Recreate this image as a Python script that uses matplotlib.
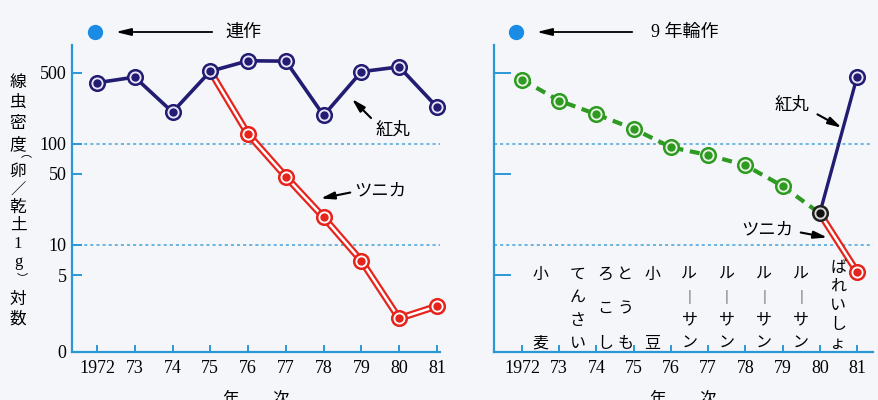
import matplotlib.pyplot as plt
import numpy as np

plt.rcParams['font.family'] = ['Liberation Serif', 'Noto Sans CJK JP', 'DejaVu Sans']

# --- data ---------------------------------------------------------------
years = [1972, 1973, 1974, 1975, 1976, 1977, 1978, 1979, 1980, 1981]
year_labels = ['1972', '73', '74', '75', '76', '77', '78', '79', '80', '81']

# continuous cropping
kouma_mono = [400, 455, 205, 520, 660, 655, 190, 515, 575, 230]
tsunika_years = [1975, 1976, 1977, 1978, 1979, 1980, 1981]
tsunika_mono = [520, 124, 47, 18.6, 6.9, 1.86, 2.46]

# 9-year rotation
rot_years = [1972, 1973, 1974, 1975, 1976, 1977, 1978, 1979, 1980]
rot_values = [430, 266, 195, 140, 92, 77, 61, 38, 20.4]
kouma_rot_1981 = 455
tsunika_rot_1981 = 5.4

crops = ['小麦', 'てんさい', 'とうもろこし', '小豆',
         'ルーサン', 'ルーサン', 'ルーサン', 'ルーサン', 'ばれいしょ']
crop_years = [1972, 1973, 1974, 1975, 1976, 1977, 1978, 1979, 1980]

left_yticks = [0.865, 5, 10, 50, 100, 500]
left_ylabels = ['0', '5', '10', '50', '100', '500']
right_yticks = [5, 50, 500]
ref_levels = [10, 100]

# --- style ----------------------------------------------------------------
BG = '#f4f6fa'
AXIS = '#2b98d6'
DOT = '#45a3d9'
NAVY = '#221c72'
RED = '#e6241c'
GREEN = '#2f9a22'
BLUE_DOT = '#1a8ce6'
W, H = 879, 400


def box(x0, y0, x1, y1):
    return [x0 / W, 1 - y1 / H, (x1 - x0) / W, (y1 - y0) / H]


def fp(x, y):
    return (x / W, 1 - y / H)


fig = plt.figure(figsize=(W / 100, H / 100), dpi=100, facecolor=BG)
ax1 = fig.add_axes(box(72, 45, 440, 352))
ax2 = fig.add_axes(box(494, 45, 873, 352))

for ax, xl in ((ax1, (1971.34, 1981.08)), (ax2, (1971.25, 1981.43))):
    ax.set_facecolor('none')
    ax.set_yscale('log')
    ax.set_ylim(0.865, 946)
    ax.set_xlim(*xl)
    for s in ('top', 'right'):
        ax.spines[s].set_visible(False)
    for s in ('left', 'bottom'):
        ax.spines[s].set_color(AXIS)
        ax.spines[s].set_linewidth(1.6)
    ax.set_xticks(years)
    ax.set_xticklabels(year_labels, fontsize=13)
    ax.tick_params(axis='x', direction='in', length=5, width=1.4,
                   color=AXIS, pad=6)
    ax.minorticks_off()
    for lv in ref_levels:
        ax.axhline(lv, color=DOT, lw=1.1, ls=(0, (2, 2)), zorder=1)
    ax.text(0.5, -0.125, '年　　次', transform=ax.transAxes, ha='center',
            va='top', fontsize=12, family='Noto Sans CJK JP')

ax1.set_yticks(left_yticks)
ax1.set_yticklabels(left_ylabels, fontsize=13)
ax1.tick_params(axis='y', direction='in', length=7, width=1.4, color=AXIS, pad=4)
ax1.minorticks_off()

ax2.set_yticks(right_yticks)
ax2.set_yticklabels([])
ax2.tick_params(axis='y', direction='in', length=12, width=1.4, color=AXIS)
ax2.minorticks_off()


def ringed(ax, x, y, edge, face, center, z=5):
    ax.plot(x, y, 'o', ms=10.5, mfc=face, mec=edge, mew=1.8, zorder=z, clip_on=False)
    ax.plot(x, y, 'o', ms=5, color=center, zorder=z + 0.1, clip_on=False)


def double_red(ax, x, y):
    ax.plot(x, y, color=RED, lw=5, zorder=3, solid_capstyle='butt', clip_on=False)
    ax.plot(x, y, color='white', lw=1.8, zorder=3.1, clip_on=False)


# left panel: continuous cropping
ax1.plot(years, kouma_mono, color=NAVY, lw=2.6, zorder=4, clip_on=False)
double_red(ax1, tsunika_years, tsunika_mono)
ringed(ax1, tsunika_years[1:], tsunika_mono[1:], RED, 'white', RED)
ringed(ax1, years, kouma_mono, NAVY, '#ece6fb', NAVY, z=6)

# right panel: rotation
ax2.plot(rot_years, rot_values, color=GREEN, lw=3, dashes=(2.4, 1.6), zorder=4)
ax2.plot([1980, 1981], [rot_values[-1], kouma_rot_1981], color=NAVY, lw=2.4,
         zorder=3, clip_on=False)
double_red(ax2, [1980, 1981], [rot_values[-1], tsunika_rot_1981])
ringed(ax2, rot_years[:-1], rot_values[:-1], GREEN, '#eaf6e4', GREEN)
ringed(ax2, [1980], [rot_values[-1]], '#222222', '#d8d8d8', '#111111')
ringed(ax2, [1981], [kouma_rot_1981], NAVY, '#ece6fb', NAVY)
ringed(ax2, [1981], [tsunika_rot_1981], RED, 'white', RED)

# crop names, written vertically between year ticks
yb = ax2.get_xaxis_transform()
top, bot = 0.254, 0.029
for name, yr in zip(crops, crop_years):
    x = yr + 0.5
    chars = [c if c != 'ー' else '｜' for c in name]
    if len(chars) == 2:
        rows = [(x, top, chars[0]), (x, bot, chars[1])]
    elif len(chars) == 6:
        ys = np.linspace(top, bot, 3)
        rows = [(x + 0.27, y, c) for y, c in zip(ys, chars[:3])]
        rows += [(x - 0.27, y, c) for y, c in zip(ys, chars[3:])]
    elif len(chars) == 5:
        ys = np.linspace(top + 0.02, bot, 5)
        rows = list(zip([x] * 5, ys, chars))
    else:
        ys = np.linspace(top, bot, len(chars))
        rows = list(zip([x] * len(chars), ys, chars))
    for cx, cy, c in rows:
        fs = 10 if c == '｜' else 11.5
        ax2.text(cx, cy, c, transform=yb, ha='center', va='center',
                 fontsize=fs, family='Noto Sans CJK JP')

# y-axis title, stacked vertically
ylab = '線虫密度︵卵／乾土1g︶対数'
ylab_x = [18, 18, 18, 18, 26, 18, 18, 18, 18, 18, 18, 22, 18, 18]
ylab_y = [83, 103, 124, 145, 154, 172, 191, 208, 226, 244, 262, 279, 300, 320]
ylab_fs = [12, 12, 12, 12, 8, 12, 11, 12, 12, 12, 12, 8, 12, 12]
for c, x, y, fs in zip(ylab, ylab_x, ylab_y, ylab_fs):
    fig.text(*fp(x, y), c, ha='center', va='center', fontsize=fs)

# top keys
for (dx, ax0, ax1_, tx, label) in ((95, 215, 113, 243, '連作'),
                                   (516, 635, 534, 685, '9 年輪作')):
    fig.add_artist(plt.Line2D([dx / W], [1 - 32 / H], marker='o', ms=10,
                              color=BLUE_DOT, transform=fig.transFigure))
    ax1.annotate('', xy=fp(ax1_, 32), xytext=fp(ax0, 32),
                 xycoords='figure fraction', textcoords='figure fraction',
                 arrowprops=dict(arrowstyle='-|>,head_length=0.9,head_width=0.22',
                                 color='black', lw=1.3))
    fig.text(*fp(tx, 32), label, ha='center', va='center', fontsize=13)

# line labels with pointers
labels = [('紅丸', (393, 130), (373, 120), (350, 97)),
          ('ツニカ', (380, 190), (353, 192), (318, 199)),
          ('紅丸', (792, 105), (815, 113), (844, 129)),
          ('ツニカ', (767, 229), (798, 232), (830, 238))]
for txt, tpos, a0, a1 in labels:
    fig.text(*fp(*tpos), txt, ha='center', va='center', fontsize=12.5,
             family='Noto Sans CJK JP')
    ax1.annotate('', xy=fp(*a1), xytext=fp(*a0),
                 xycoords='figure fraction', textcoords='figure fraction',
                 arrowprops=dict(arrowstyle='-|>,head_length=0.8,head_width=0.22',
                                 color='black', lw=1.5))

fig.savefig('out.png', dpi=100, facecolor=BG)
